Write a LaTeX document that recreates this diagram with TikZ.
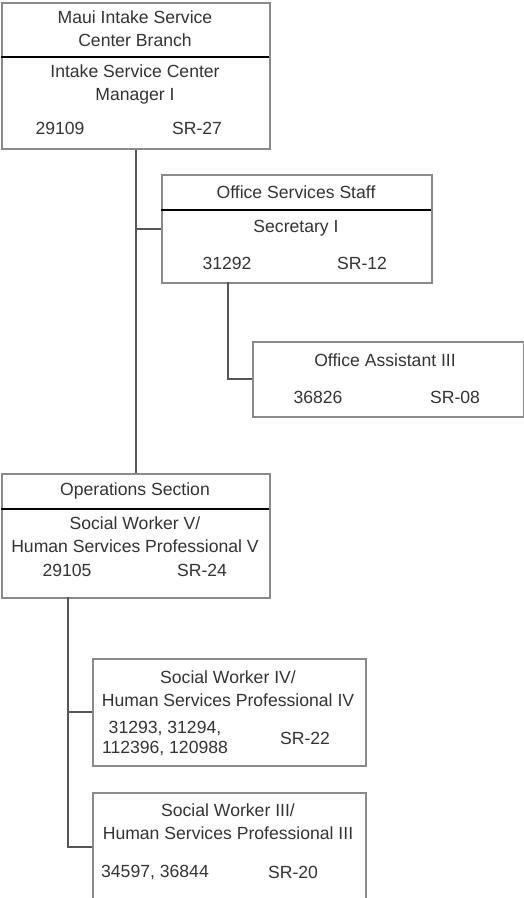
\documentclass[tikz,border=0pt]{standalone}
\usepackage{fontspec}
\setmainfont{Liberation Sans}
\definecolor{txtc}{HTML}{333333}
\definecolor{boxc}{HTML}{8A8A8A}
\definecolor{connc}{HTML}{555555}
\tikzset{
  box/.style={draw=boxc, line width=1.8pt, fill=none, anchor=north west, inner sep=0pt},
  divider/.style={draw=black, line width=1.4pt},
  conn/.style={draw=connc, line width=2pt},
  txt/.style={text=txtc, font=\fontsize{17.6}{23}\selectfont, inner sep=0pt, align=center}
}
\begin{document}
\begin{tikzpicture}[x=1pt,y=-1pt]
\useasboundingbox (0,0) rectangle (524,898);
% boxes
\node[box, minimum width=268pt, minimum height=146pt] (mgr) at (1,2) {};
\node[box, minimum width=270pt, minimum height=108pt] (oss) at (161,174) {};
\node[box, minimum width=271pt, minimum height=75pt] (oa) at (252,341) {};
\node[box, minimum width=268pt, minimum height=124pt] (ops) at (1,473) {};
\node[box, minimum width=273pt, minimum height=107pt] (sw4) at (92,658) {};
\node[box, minimum width=273pt, minimum height=108pt] (sw3) at (92,792) {};
% dividers
\draw[divider] (1,57) -- (269,57);
\draw[divider] (161,210) -- (431,210);
\draw[divider] (1,509) -- (269,509);
% connectors
\coordinate (secx) at (228,282);
\coordinate (opsx) at (68,597);
\draw[conn] (mgr.south) -- (ops.north);
\draw[conn] (mgr.south |- oss.west) -- (oss.west);
\draw[conn] (secx) |- (oa.west);
\draw[conn] (opsx) |- (sw4.west);
\draw[conn] (opsx) |- (sw3.west);
% texts
\node[txt] (t1) at (135,29) {Maui Intake Service\\Center Branch};
\node[txt] (t2) at (135,84) {Intake Service Center\\Manager I};
\node[txt] (t3) at (60,128) {29109};
\node[txt] (t4) at (197,128) {SR-27};
\node[txt] (t5) at (296,192) {Office Services Staff};
\node[txt] (t6) at (296,228) {Secretary I};
\node[txt] (t7) at (227,263) {31292};
\node[txt] (t8) at (362,263) {SR-12};
\node[txt] (t9) at (385,360) {Office Assistant III};
\node[txt] (t10) at (318,397) {36826};
\node[txt] (t11) at (455,397) {SR-08};
\node[txt] (t12) at (135,491) {Operations Section};
\node[txt] (t13) at (135,535) {Social Worker V/\\Human Services Professional V};
\node[txt] (t14) at (67,570) {29105};
\node[txt] (t15) at (202,570) {SR-24};
\node[txt] (t16) at (228,689) {Social Worker IV/\\Human Services Professional IV};
\node[txt, font=\fontsize{17.6}{20}\selectfont] (t17) at (165,738) {31293, 31294,\\112396, 120988};
\node[txt] (t18) at (305,738) {SR-22};
\node[txt] (t19) at (228,822) {Social Worker III/\\Human Services Professional III};
\node[txt] (t20) at (155,872) {34597, 36844};
\node[txt] (t21) at (293,872) {SR-20};
\end{tikzpicture}
\end{document}
